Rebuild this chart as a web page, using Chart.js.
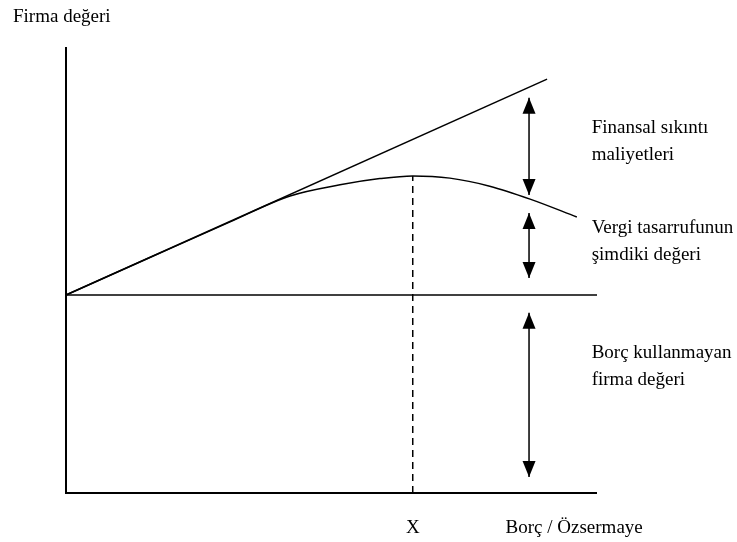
<!DOCTYPE html>
<html>
<head>
<meta charset="utf-8">
<script src="https://cdn.jsdelivr.net/npm/chart.js@4/dist/chart.umd.min.js"></script>
<style>
    html, body { margin: 0; padding: 0; background: #fff; }
    #wrap { width: 737px; height: 542px; }
</style>
</head>
<body>
<div id="wrap"><canvas id="chart"></canvas></div>
<script>
// Debt/equity on x (0..10), firm value on y (0..10), arbitrary units
var unleveredValue = 4.44;
var taxLineX = [0, 9.06];
var taxLineY = [4.44, 9.28];
var firmValueX = [0, 1.58, 3.09, 4.22, 5.16, 5.91, 6.53, 7.23, 7.98, 8.74, 9.62];
var firmValueY = [4.44, 5.28, 6.08, 6.66, 6.91, 7.05, 7.11, 7.06, 6.88, 6.59, 6.19];
var optimumX = 6.53;
var optimumY = 7.11;
var arrowX = 8.72;
var arrowFrom = [8.86, 6.28, 4.04];
var arrowTo = [6.68, 4.82, 0.36];
var xTickValues = [6.53, 9.57];
var xTickLabels = ["X", "Borç / Özsermaye"];
var yAxisLabel = "Firma değeri";
var noteLines = [
    ["Finansal sıkıntı", "maliyetleri"],
    ["Vergi tasarrufunun", "şimdiki değeri"],
    ["Borç kullanmayan", "firma değeri"]
];

var serif = "'Liberation Serif', 'Times New Roman', serif";

function pts(xs, ys) {
    return xs.map(function (x, i) { return { x: x, y: ys[i] }; });
}

var lineBase = { showLine: true, pointRadius: 0, borderColor: "#000", fill: false, clip: false };

var datasets = [
    // axes
    Object.assign({}, lineBase, { data: [{ x: 0, y: 10 }, { x: 0, y: 0 }, { x: 10, y: 0 }], borderWidth: 2 }),
    // unlevered firm value
    Object.assign({}, lineBase, { data: [{ x: 0, y: unleveredValue }, { x: 10, y: unleveredValue }], borderWidth: 1.5 }),
    // value with tax shield only
    Object.assign({}, lineBase, { data: pts(taxLineX, taxLineY), borderWidth: 1.5 }),
    // value with distress costs
    Object.assign({}, lineBase, { data: pts(firmValueX, firmValueY), borderWidth: 1.5, cubicInterpolationMode: "monotone" }),
    // optimum marker
    Object.assign({}, lineBase, { data: [{ x: optimumX, y: 0 }, { x: optimumX, y: optimumY }], borderWidth: 1.5, borderDash: [7, 5] })
];

arrowFrom.forEach(function (y0, i) {
    datasets.push(Object.assign({}, lineBase, {
        data: [{ x: arrowX, y: y0 }, { x: arrowX, y: arrowTo[i] }],
        borderWidth: 1.5,
        arrow: true
    }));
});

// filled heads at both ends of the arrow datasets
var arrowHeads = {
    id: "arrowHeads",
    afterDatasetsDraw: function (chart) {
        var ctx = chart.ctx;
        chart.data.datasets.forEach(function (ds, i) {
            if (!ds.arrow) return;
            var meta = chart.getDatasetMeta(i);
            var a = meta.data[0], b = meta.data[1];
            var dir = b.y > a.y ? 1 : -1;
            ctx.save();
            ctx.fillStyle = "#000";
            [[a, -dir], [b, dir]].forEach(function (p) {
                var tipX = p[0].x, tipY = p[0].y, d = p[1];
                ctx.beginPath();
                ctx.moveTo(tipX, tipY);
                ctx.lineTo(tipX - 6.5, tipY - d * 16);
                ctx.lineTo(tipX + 6.5, tipY - d * 16);
                ctx.closePath();
                ctx.fill();
            });
            ctx.restore();
        });
    }
};

// side notes and the vertical axis label
var notes = {
    id: "notes",
    afterDraw: function (chart, args, opts) {
        var ctx = chart.ctx;
        var xs = chart.scales.x, ys = chart.scales.y;
        ctx.save();
        ctx.fillStyle = "#000";
        ctx.font = "19px " + serif;
        ctx.textBaseline = "middle";
        ctx.textAlign = "left";
        noteLines.forEach(function (lines, i) {
            var x = xs.getPixelForValue(opts.x);
            var y = ys.getPixelForValue(opts.y[i]);
            lines.forEach(function (t, j) {
                ctx.fillText(t, x, y + j * opts.lineStep);
            });
        });
        ctx.fillText(yAxisLabel, 13, 17);
        ctx.restore();
    }
};

new Chart(document.getElementById("chart"), {
    type: "scatter",
    data: { datasets: datasets },
    options: {
        responsive: true,
        maintainAspectRatio: false,
        animation: false,
        layout: { padding: { left: 66, right: 140, top: 47, bottom: 0 } },
        plugins: {
            legend: { display: false },
            tooltip: { enabled: false },
            notes: { x: 9.9, y: [8.18, 5.94, 3.14], lineStep: 27 }
        },
        scales: {
            x: {
                type: "linear",
                min: 0,
                max: 10,
                grid: { display: false, drawTicks: false },
                border: { display: false },
                afterBuildTicks: function (axis) {
                    axis.ticks = xTickValues.map(function (v) { return { value: v }; });
                },
                afterFit: function (axis) { axis.height = 49; },
                ticks: {
                    autoSkip: false,
                    maxRotation: 0,
                    padding: 24,
                    color: "#000",
                    font: { family: serif, size: 19 },
                    callback: function (value, index) { return xTickLabels[index]; }
                }
            },
            y: { display: false, min: 0, max: 10 }
        }
    },
    plugins: [arrowHeads, notes]
});
</script>
</body>
</html>
